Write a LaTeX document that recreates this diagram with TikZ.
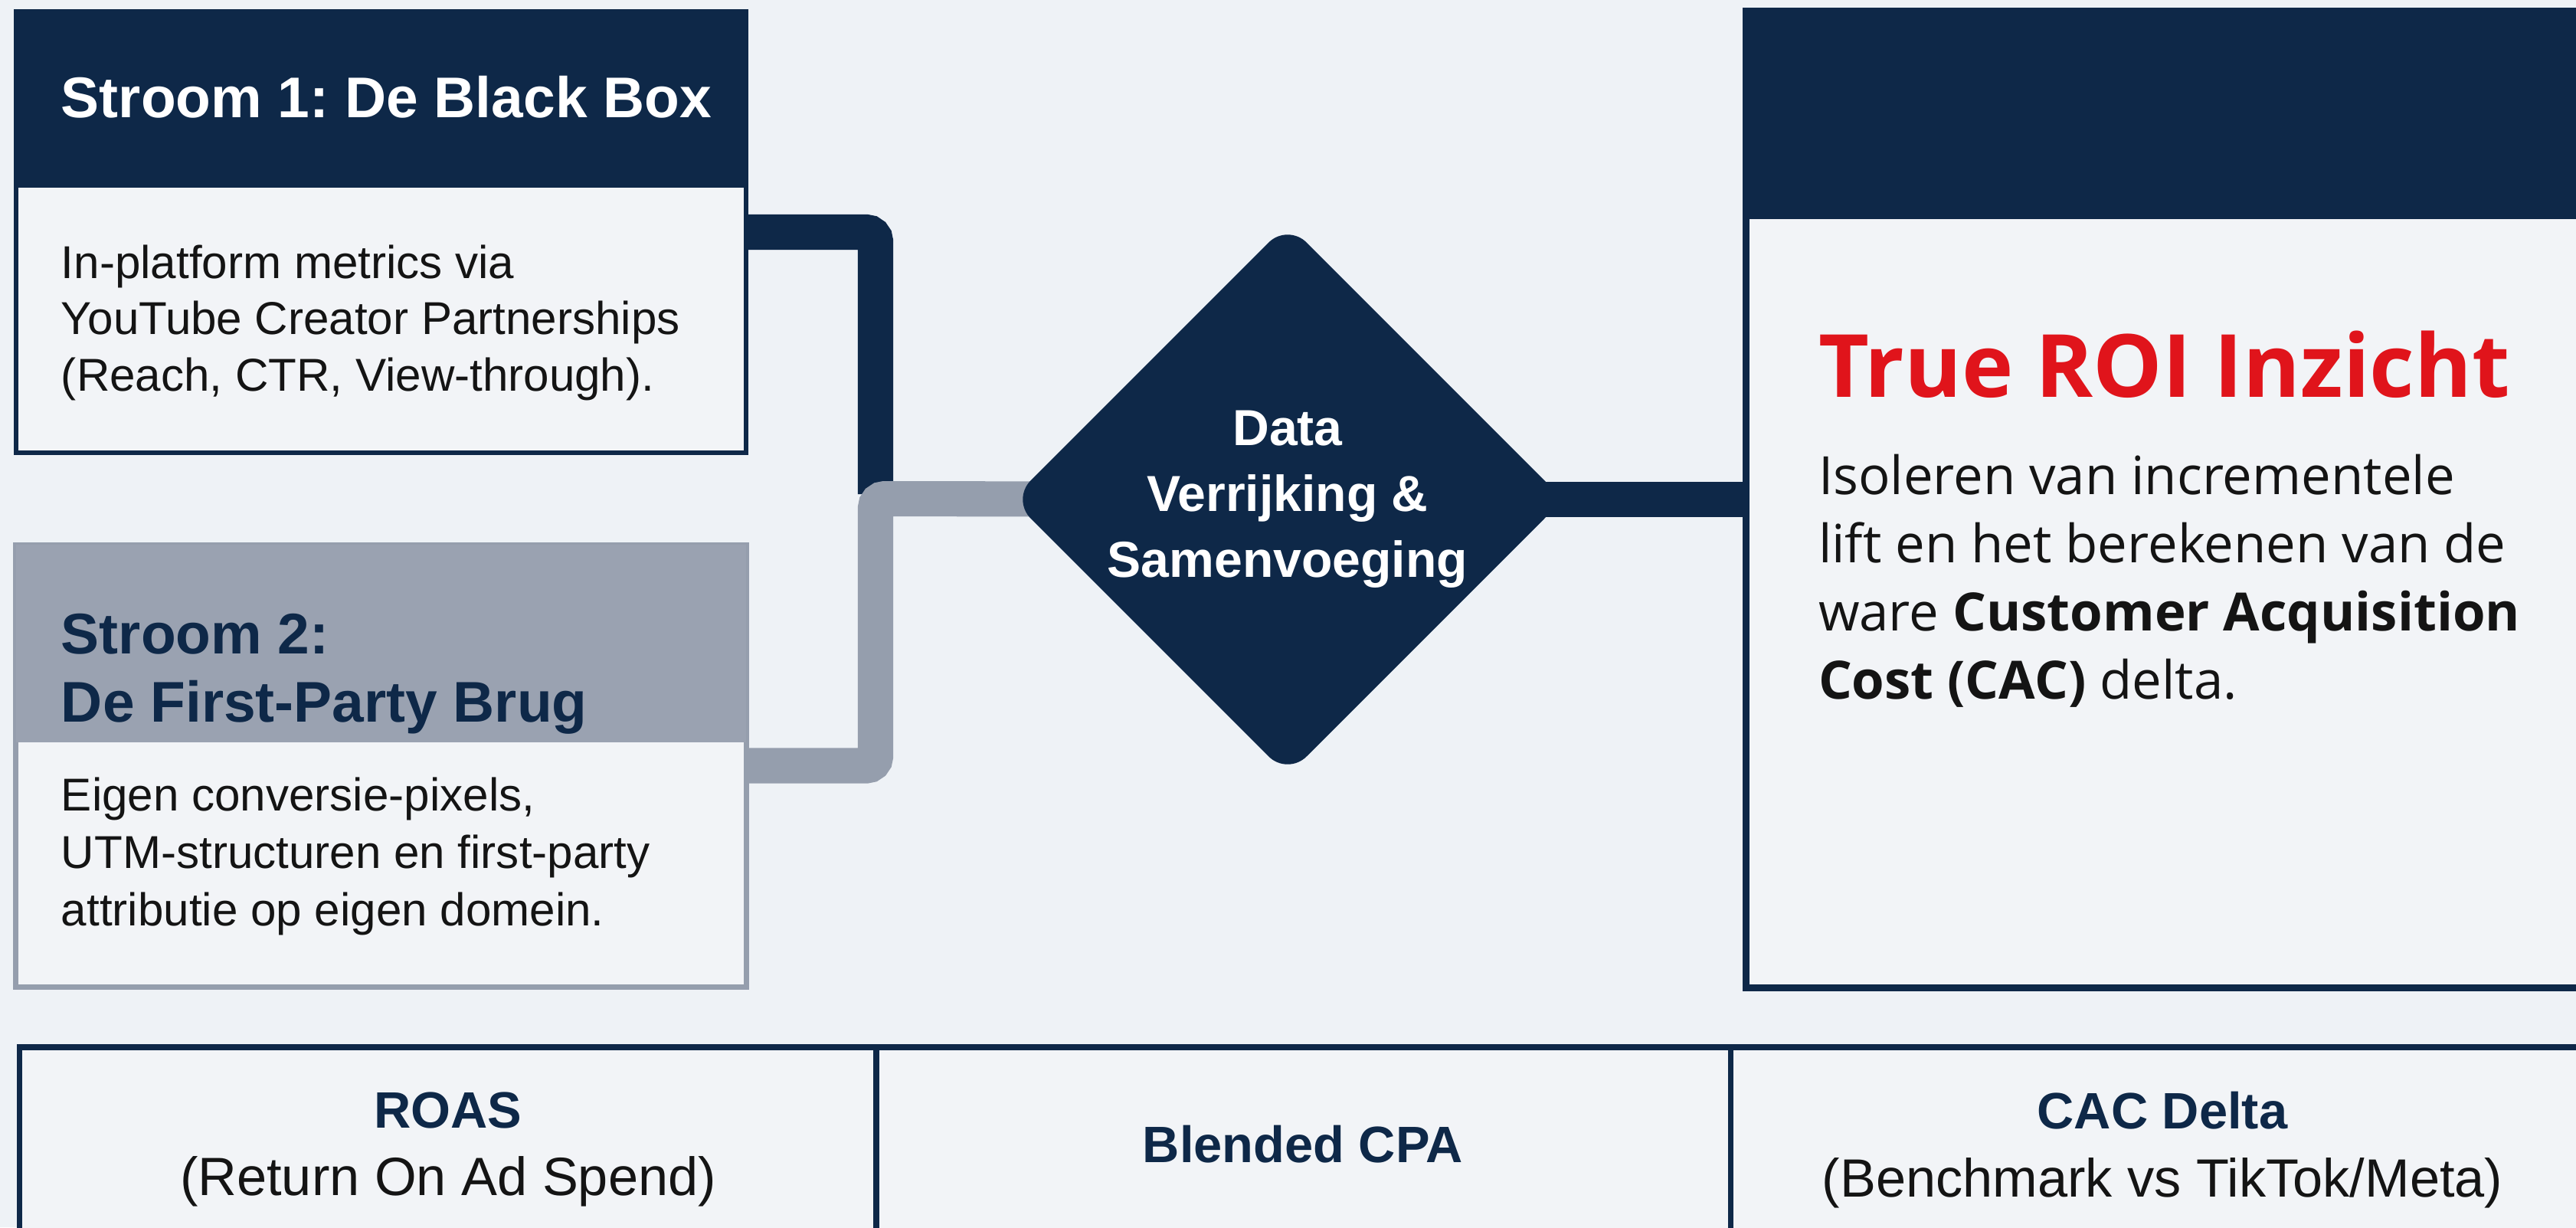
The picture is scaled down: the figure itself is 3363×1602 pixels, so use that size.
\documentclass[tikz,border=0pt]{standalone}
\usepackage{fontspec}
\setmainfont{Liberation Sans}
\newfontfamily\notofont{Open Sans}
\usetikzlibrary{shapes.geometric}
\frenchspacing
\definecolor{navy}{HTML}{0E2848}
\definecolor{bgc}{HTML}{EEF2F6}
\definecolor{boxfill}{HTML}{F2F4F7}
\definecolor{grayhead}{HTML}{9AA2B1}
\definecolor{grayline}{HTML}{959EAD}
\definecolor{roired}{HTML}{E0141B}
\definecolor{ink}{HTML}{141414}
\tikzset{
  panel/.style={rectangle, inner sep=0pt, outer sep=0pt},
  txt/.style={inner sep=0pt, outer sep=0pt, anchor=base west, align=left},
  ctxt/.style={inner sep=0pt, outer sep=0pt, anchor=base, align=center},
  darkconn/.style={draw=navy, line width=13.1pt, rounded corners=0.12cm},
  grayconn/.style={draw=grayline, line width=13.1pt, rounded corners=0.12cm},
  divline/.style={draw=navy, line width=2pt}
}
\begin{document}
\frenchspacing
\begin{tikzpicture}[x=0.01cm,y=-0.01cm]
\useasboundingbox (0,0) rectangle (3363,1602);
\clip (0,0) rectangle (3363,1602);
\fill[bgc] (0,0) rectangle (3363,1602);

% anchors for connectors
\coordinate (join) at (1143,651);
\coordinate (darkend) at (1143,645);
\node[panel, minimum width=9.53cm, minimum height=5.76cm] (box1) at (497.5,303) {};
\node[panel, minimum width=9.53cm, minimum height=5.77cm] (box2) at (497.5,999.5) {};
\node[panel, diamond, minimum width=7.2cm, minimum height=7.2cm] (diaA) at (1681,652) {};
\node[panel, minimum width=11.2cm, minimum height=12.74cm] (rboxA) at (2840,652) {};

\draw[darkconn] (box1.east) -| (darkend);
\draw[grayconn] (box2.east) -| (join) -- (diaA.center);
\draw[darkconn] (diaA.center) -- (rboxA.center);

% Box 1
\node[panel, draw=navy, line width=1.7pt, fill=boxfill, minimum width=9.53cm, minimum height=5.76cm] (box1f) at (box1) {};
\node[panel, fill=navy, minimum width=9.53cm, minimum height=2.30cm] (head1) at (497.5,130) {};
\node[txt, text=white, font=\bfseries\fontsize{21.3}{25}\selectfont] (t1) at (80,153) {Stroom 1: De Black Box};
\node[txt, text=ink, font=\fontsize{17.1}{20.8}\selectfont] (b1) at (80,510) {In-platform metrics via\\YouTube Creator Partnerships\\(Reach, CTR, View-through).};

% Box 2
\node[panel, draw=grayline, line width=1.9pt, fill=boxfill, minimum width=9.53cm, minimum height=5.77cm] (box2f) at (box2) {};
\node[panel, fill=grayhead, minimum width=9.53cm, minimum height=2.58cm] (head2) at (497.5,840) {};
\node[txt, text=navy, font=\bfseries\fontsize{21.3}{25.3}\selectfont] (t2) at (80,942) {Stroom 2:\\De First-Party Brug};
\node[txt, text=ink, font=\fontsize{17.1}{21.3}\selectfont] (b2) at (80,1208) {Eigen conversie-pixels,\\UTM-structuren en first-party\\attributie op eigen domein.};

% Diamond
\node[panel, diamond, fill=navy, rounded corners=0.35cm, minimum width=7.2cm, minimum height=7.2cm] (dia) at (diaA) {};
\node[inner sep=0pt, align=center, text=white, font=\bfseries\fontsize{18.8}{24.5}\selectfont] (diatxt) at (dia.center) {Data\\Verrijking \&\\Samenvoeging};

% Right box
\node[panel, draw=navy, line width=2.56pt, fill=boxfill, minimum width=11.2cm, minimum height=12.74cm] (rbox) at (rboxA) {};
\node[panel, fill=navy, minimum width=11.2cm, minimum height=2.71cm] (rhead) at (2840,150.5) {};
\node[txt, text=roired, font=\notofont\bfseries\fontsize{32.4}{38}\selectfont] (rtitle) at (2374,518) {True ROI Inzicht};
\node[txt, text=ink, font=\notofont\fontsize{19.6}{25.3}\selectfont] (rbody) at (2374,912) {Isoleren van incrementele\\lift en het berekenen van de\\ware \textbf{Customer Acquisition}\\\textbf{Cost (CAC)} delta.};

% Bottom table
\node[panel, draw=navy, line width=2pt, fill=boxfill, minimum width=33.7cm, minimum height=3cm] (tbl) at (1711,1517) {};
\coordinate (d1a) at (1144,1367);
\coordinate (d1b) at (1144,1700);
\coordinate (d2a) at (2259,1367);
\coordinate (d2b) at (2259,1700);
\draw[divline] (d1a) -- (d1b);
\draw[divline] (d2a) -- (d2b);
\draw[navy, line width=2.4pt] (tbl.north west) -- (tbl.north east);

\node[ctxt, text=navy, font=\bfseries\fontsize{19}{23}\selectfont] (roas) at (585,1472) {ROAS};
\node[ctxt, text=ink, font=\fontsize{20}{24}\selectfont] (roassub) at (585,1560) {(Return On Ad Spend)};
\node[ctxt, text=navy, font=\bfseries\fontsize{19}{23}\selectfont] (cpa) at (1701,1517) {Blended CPA};
\node[ctxt, text=navy, font=\bfseries\fontsize{19}{23}\selectfont] (cac) at (2823,1473) {CAC Delta};
\node[ctxt, text=ink, font=\fontsize{20}{24}\selectfont] (cacsub) at (2823,1562) {(Benchmark vs TikTok/Meta)};
\end{tikzpicture}
\end{document}
